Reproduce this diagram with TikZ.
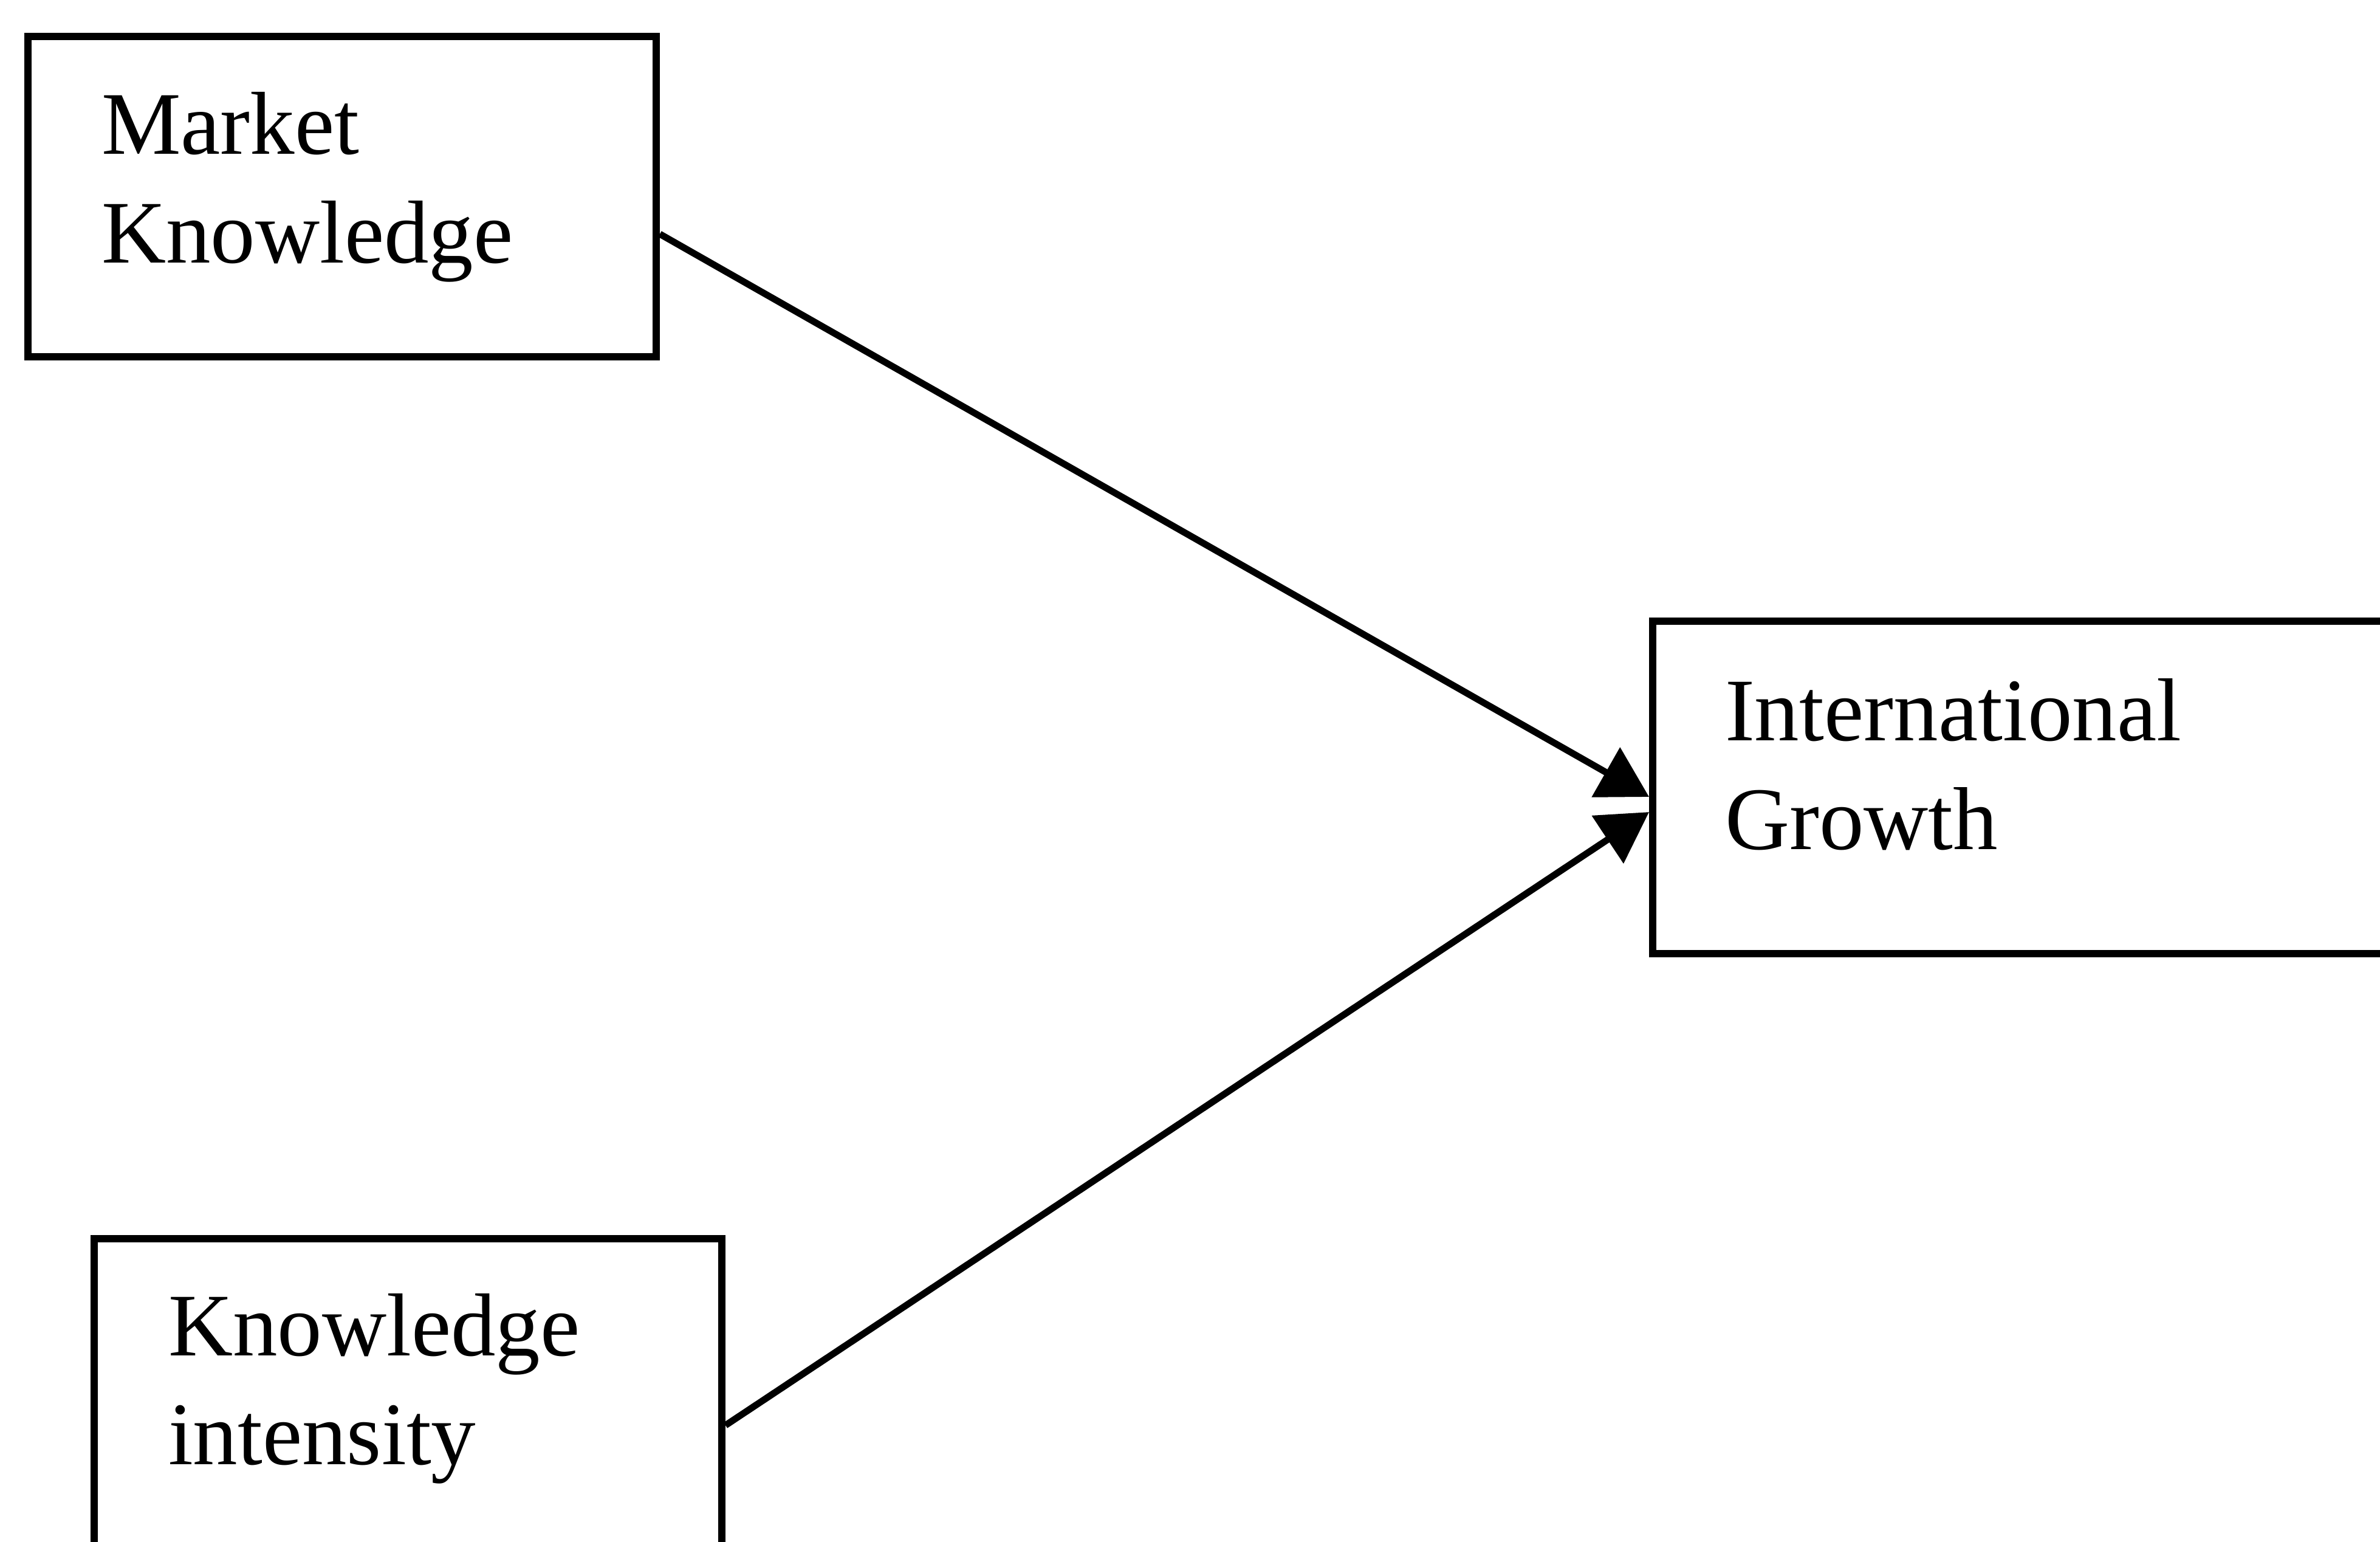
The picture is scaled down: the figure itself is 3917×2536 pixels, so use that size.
\documentclass[tikz,border=0pt]{standalone}
\usepackage{fontspec}
\setmainfont{Liberation Serif}
\usetikzlibrary{arrows.meta}
\begin{document}
\begin{tikzpicture}[x=0.1pt,y=-0.1pt,
  box/.style={draw,rectangle,line width=1.2pt,inner sep=0pt},
  boxtext/.style={anchor=base west,inner sep=0pt,
    font=\fontsize{14.7pt}{17.9pt}\selectfont},
  link/.style={line width=1.1pt,-{Triangle[length=8.2pt,width=9.2pt]}}]
\useasboundingbox (0,0) rectangle (3917,2536);
\clip (0,0) rectangle (3917,2536);

% boxes
\node[box,minimum width=103.4pt,minimum height=52.7pt] (mk) at (563,323.5) {};
\node[box,minimum width=128pt,minimum height=54.7pt] (ig) at (3360,1295.5) {};
\node[box,minimum width=103.3pt,minimum height=66.2pt] (ki) at (671.5,2369) {};

% box texts
\node[boxtext] (mktext) at (165,253) {\parbox[t]{90pt}{Market\\Knowledge}};
\node[boxtext] (igtext) at (2837,1218) {\parbox[t]{100pt}{International\\Growth}};
\node[boxtext] (kitext) at (275,2230) {\parbox[t]{90pt}{Knowledge\\intensity}};

% connectors
\draw[link] ([yshift=-6.15pt]mk.east) -- ([yshift=-1.55pt]ig.west);
\draw[link] ([yshift=2.4pt]ki.east) -- ([yshift=-4.05pt]ig.west);
\end{tikzpicture}
\end{document}
